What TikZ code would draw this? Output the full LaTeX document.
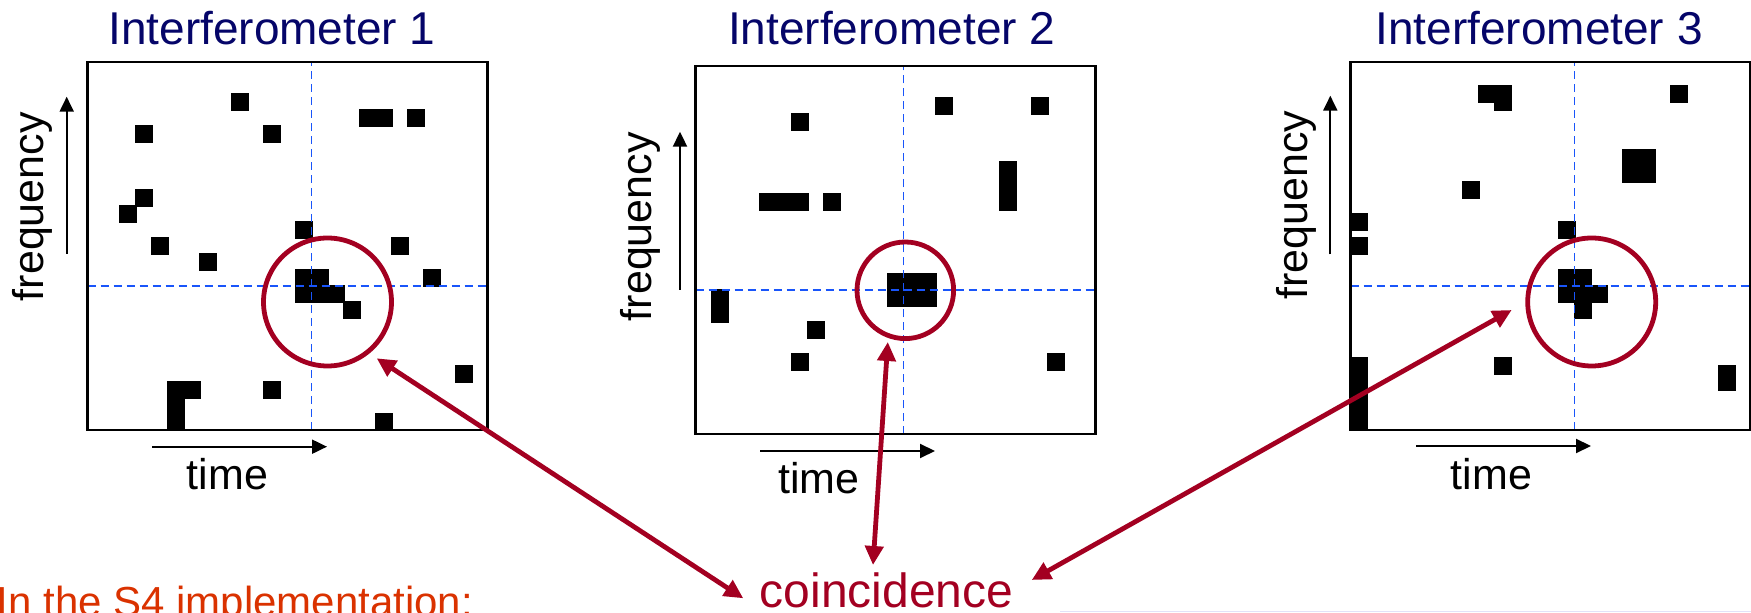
\documentclass[tikz,border=0pt]{standalone}
\usepackage{fontspec}
\setmainfont{Liberation Sans}
\usetikzlibrary{arrows.meta}

\definecolor{titleblue}{RGB}{5,5,105}
\definecolor{ringred}{RGB}{163,0,33}
\definecolor{gridblue}{RGB}{25,85,250}
\definecolor{noteorange}{RGB}{218,50,0}
\definecolor{faintline}{RGB}{226,226,248}

% one time-frequency pixel: column #1, row #2 of a 16pt grid, drawn 18pt wide
\newcommand\blip[2]{\fill ({16*(#1)-1},{16*(#2)-1}) rectangle ++(18,18);}

\tikzset{
  panelbox/.style={draw=black, line width=2.4pt},
  marker/.style={draw=gridblue, line width=1.7pt, dash pattern=on 8pt off 5pt},
  ring/.style={draw=ringred, line width=4.8pt, circle, inner sep=0pt},
  axisarrow/.style={line width=2pt, -{Triangle[length=15pt,width=14pt]}},
  linkarrow/.style={draw=ringred, line width=4.8pt,
    {Triangle[length=19pt,width=18pt]}-{Triangle[length=19pt,width=18pt]}},
  paneltitle/.style={font=\fontsize{46}{50}\selectfont, text=titleblue, anchor=base, inner sep=0pt},
  axislabel/.style={font=\fontsize{43}{48}\selectfont, anchor=base, inner sep=0pt},
}

\begin{document}
\begin{tikzpicture}[x=1pt,y=1pt]
\useasboundingbox (0,0) rectangle (1751,613);
\clip (0,0) rectangle (1751,613);

% ---------- panel 1 ----------
\begin{scope}[shift={(87.5,183)}]
  \foreach \c/\r in {9/20, 3/18, 11/18, 17/19, 18/19, 20/19, 3/14, 2/13, 13/12,
                     4/11, 19/11, 7/10, 21/9, 13/9, 14/9, 13/8, 14/8, 15/8, 16/7,
                     23/3, 5/2, 6/2, 5/1, 5/0, 11/2, 18/0}
    {\blip{\c}{\r}}
  \draw[marker] (224,0) -- (224,368);
  \draw[marker] (0,144) -- (400,144);
  \draw[panelbox] (0,0) rectangle (400,368);
\end{scope}
\node[paneltitle] (title1) at (272,568) {Interferometer 1};
\coordinate (f1s) at (66.7,359);
\coordinate (f1e) at (66.7,516.3);
\draw[axisarrow] (f1s) -- (f1e);
\node[axislabel, rotate=90] (freq1) at (43.3,406.3) {frequency};
\coordinate (t1s) at (152,166.3);
\coordinate (t1e) at (327,166.3);
\draw[axisarrow] (t1s) -- (t1e);
\node[axislabel] (time1) at (227.5,123.7) {time};
\node[ring, minimum size=128pt] (ring1) at (327.5,311) {};

% ---------- panel 2 ----------
\begin{scope}[shift={(695.5,178.7)}]
  \foreach \c/\r in {6/19, 15/20, 21/20, 4/14, 5/14, 6/14, 8/14, 19/14, 19/15,
                     19/16, 12/8, 13/8, 14/8, 12/9, 13/9, 14/9, 1/7, 1/8, 7/6,
                     6/4, 22/4}
    {\blip{\c}{\r}}
  \draw[marker] (208,0) -- (208,368);
  \draw[marker] (0,144) -- (400,144);
  \draw[panelbox] (0,0) rectangle (400,368);
\end{scope}
\node[paneltitle] (title2) at (891.7,568) {Interferometer 2};
\coordinate (f2s) at (680,323);
\coordinate (f2e) at (680,481.3);
\draw[axisarrow] (f2s) -- (f2e);
\node[axislabel, rotate=90] (freq2) at (651.7,386.3) {frequency};
\coordinate (t2s) at (760,162);
\coordinate (t2e) at (935,162);
\draw[axisarrow] (t2s) -- (t2e);
\node[axislabel] (time2) at (819,119) {time};
\node[ring, minimum size=96.6pt] (ring2) at (905.3,322.7) {};

% ---------- panel 3 ----------
\begin{scope}[shift={(1350.5,183)}]
  \foreach \c/\r in {8/20.5, 9/20.5, 9/20, 20/20.5, 17/16.5, 18/16.5, 17/15.5,
                     18/15.5, 7/14.5, 0/12.5, 0/11, 13/12, 13/9, 14/9, 13/8,
                     14/8, 15/8, 14/7, 9/3.5, 23/3, 23/2.5, 0/0, 0/1, 0/2, 0/3,
                     0/3.5}
    {\blip{\c}{\r}}
  \draw[marker] (224,0) -- (224,368);
  \draw[marker] (0,144) -- (400,144);
  \draw[panelbox] (0,0) rectangle (400,368);
\end{scope}
\node[paneltitle] (title3) at (1539,568) {Interferometer 3};
\coordinate (f3s) at (1330.3,358.7);
\coordinate (f3e) at (1330.3,517.3);
\draw[axisarrow] (f3s) -- (f3e);
\node[axislabel, rotate=90] (freq3) at (1307.3,408) {frequency};
\coordinate (t3s) at (1416,167);
\coordinate (t3e) at (1591,167);
\draw[axisarrow] (t3s) -- (t3e);
\node[axislabel] (time3) at (1491.3,123.7) {time};
\node[ring, minimum size=128pt] (ring3) at (1591.7,311) {};

% ---------- bottom texts ----------
\node[font=\fontsize{48}{52}\selectfont, text=ringred, anchor=base west, inner sep=0pt]
  (coinc) at (759.7,5) {coincidence};
\node[font=\fontsize{42}{46}\selectfont, text=noteorange, anchor=base west, inner sep=0pt]
  (note) at (-3.4,-4) {In the S4 implementation:};
\draw[faintline, line width=1pt] (1060,1.3) -- (1751,1.3);

% ---------- links between the rings and the coincidence label ----------
\coordinate (c1) at (743.3,14.7);
\coordinate (r1) at (376.7,254.7);
\coordinate (c2) at (873,48);
\coordinate (r2) at (887.8,271);
\coordinate (c3) at (1031.7,33);
\coordinate (r3) at (1511.7,303);
\draw[linkarrow] (c1) -- (r1);
\draw[linkarrow] (c2) -- (r2);
\draw[linkarrow] (c3) -- (r3);
\end{tikzpicture}
\end{document}
